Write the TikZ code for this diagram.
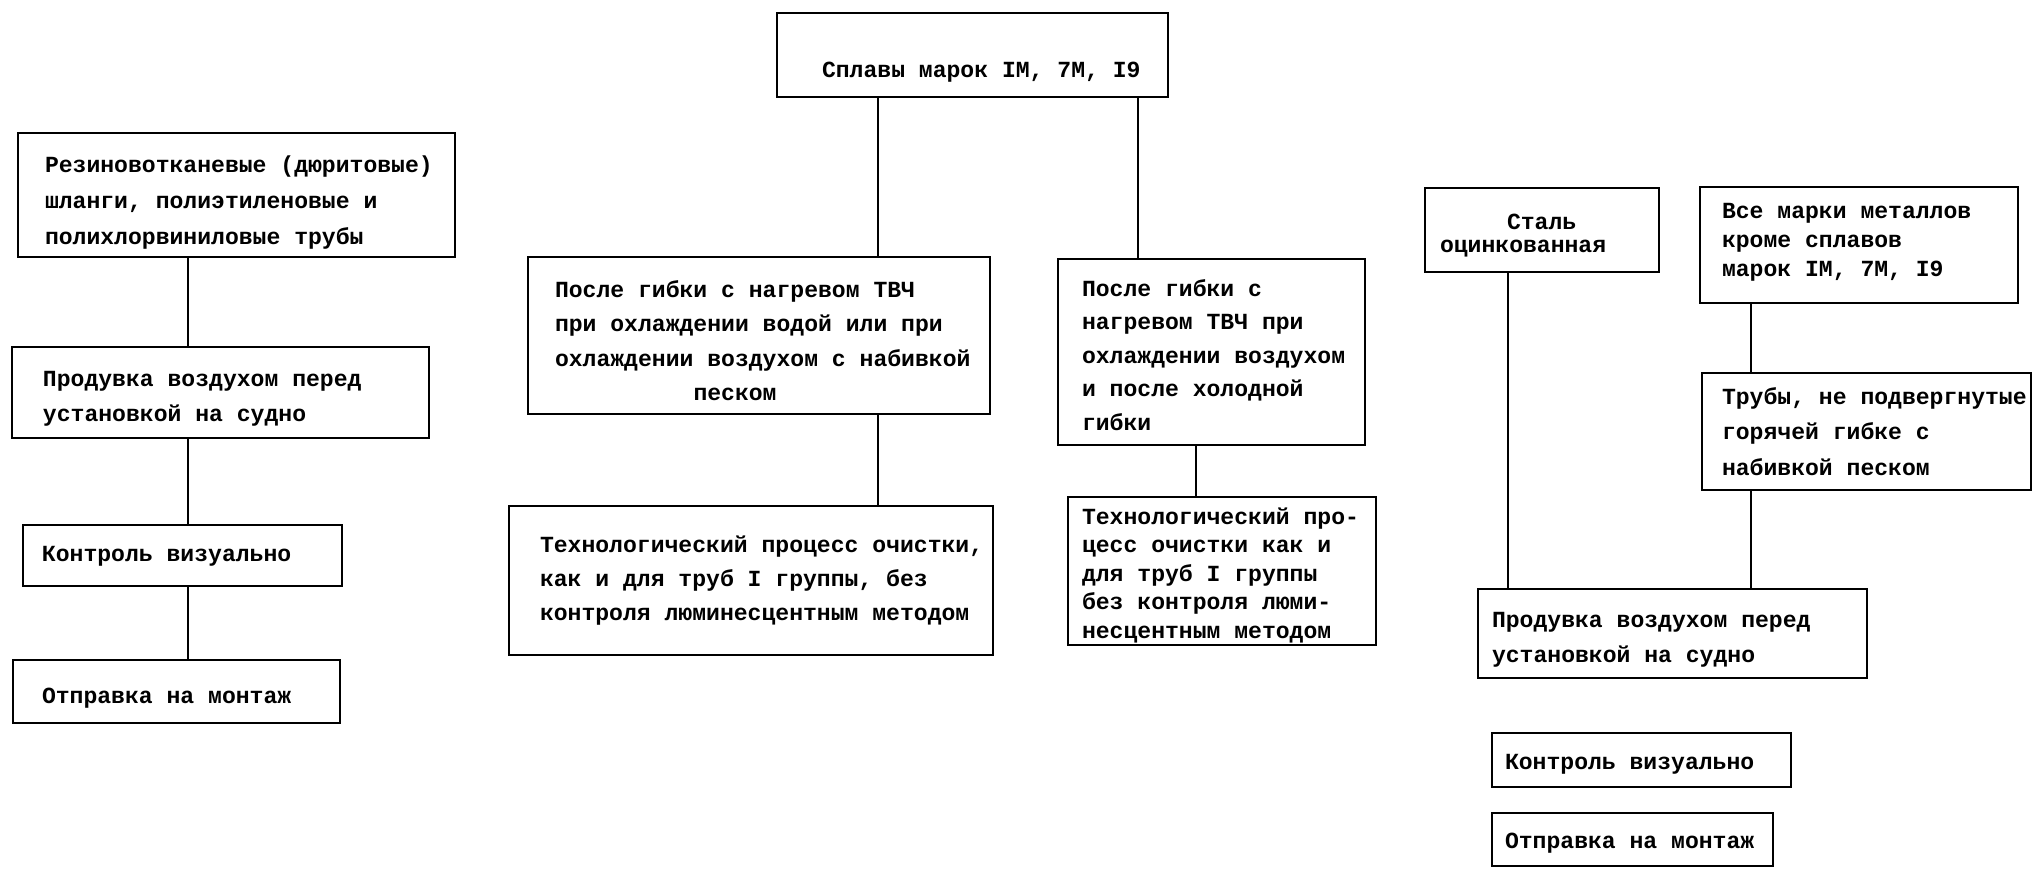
\documentclass[tikz,border=0pt]{standalone}
\usepackage{fontspec}
\newfontfamily\tw{Liberation Mono}
\newcommand\boxfont{\tw\bfseries\fontsize{23.08pt}{34pt}\selectfont}
% box text: width, left padding, line pitch, downward shift, lines
\newcommand\boxtext[5]{\raisebox{-#4pt}[\height][\depth]{\parbox{#1pt}{\raggedright
  \leftskip=#2pt\relax\baselineskip=#3pt\relax #5\par}}}
\tikzset{
  box/.style={draw, line width=2.6pt, anchor=north west, inner sep=0pt,
              outer sep=0pt, font=\boxfont},
  link/.style={line width=2.4pt},
}
\begin{document}
\begin{tikzpicture}[x=1pt,y=-1pt]
\fill[white] (0,0) rectangle (2034,869);
\useasboundingbox (0,0) rectangle (2034,869);

% ---- left column: rubber hoses and plastic pipes
\node[box, minimum height=124pt] (L1) at (18,133)
  {\boxtext{437}{27}{36}{8}{Резиновотканевые (дюритовые)\\шланги, полиэтиленовые и\\полихлорвиниловые трубы}};
\node[box, minimum height=91pt] (L2) at (12,347)
  {\boxtext{417}{31}{35}{6}{Продувка воздухом перед\\установкой на судно}};
\node[box, minimum height=61pt] (L3) at (23,525)
  {\boxtext{319}{19}{34}{1}{Контроль визуально}};
\node[box, minimum height=63pt] (L4) at (13,660)
  {\boxtext{327}{29}{34}{7}{Отправка на монтаж}};

% ---- middle: alloys 1M, 7M, 19
\node[box, minimum height=84pt, text height=39pt, text depth=0pt] (T) at (777,13)
  {\boxtext{391}{45}{34}{4}{Сплавы марок IМ, 7М, I9}};
\node[box, minimum height=157pt] (A) at (528,257)
  {\boxtext{462}{27}{34.5}{5}{После гибки с нагревом ТВЧ\\при охлаждении водой или при\\охлаждении воздухом с набивкой\\\hspace*{138.5pt}песком}};
\node[box, minimum height=149pt] (C) at (509,506)
  {\boxtext{484}{31}{34}{0}{Технологический процесс очистки,\\как и для труб I группы, без\\контроля люминесцентным методом}};
\node[box, minimum height=186pt] (B) at (1058,259)
  {\boxtext{307}{24}{33.5}{3}{После гибки с\\нагревом ТВЧ при\\охлаждении воздухом\\и после холодной\\гибки}};
\node[box, minimum height=148pt] (D) at (1068,497)
  {\boxtext{308}{14}{28.5}{4}{Технологический про-\\цесс очистки как и\\для труб I группы\\без контроля люми-\\несцентным методом}};

% ---- right: galvanised steel and other metals
\node[box, minimum height=84pt] (S) at (1425,188)
  {\boxtext{234}{15}{23}{6}{\hspace*{67pt}Сталь\\оцинкованная}};
\node[box, minimum height=116pt] (V) at (1700,187)
  {\boxtext{318}{22}{29}{-3}{Все марки металлов\\кроме сплавов\\марок IМ, 7М, I9}};
\node[box, minimum height=117pt] (P) at (1702,373)
  {\boxtext{329}{20}{35.5}{0}{Трубы, не подвергнутые\\горячей гибке с\\набивкой песком}};
\node[box, minimum height=89pt] (R1) at (1478,589)
  {\boxtext{389}{14}{35}{6}{Продувка воздухом перед\\установкой на судно}};
\node[box, minimum height=54pt] (R2) at (1492,733)
  {\boxtext{299}{13}{34}{4}{Контроль визуально}};
\node[box, minimum height=53pt] (R3) at (1492,813)
  {\boxtext{281}{13}{34}{4}{Отправка на монтаж}};

% ---- connector columns
\coordinate (xL) at (188,0);
\coordinate (xA) at (878,0);
\coordinate (xB) at (1138,0);
\coordinate (xD) at (1196,0);
\coordinate (xS) at (1508,0);
\coordinate (xV) at (1751,0);

\draw[link] (L1.south -| xL) -- (L2.north -| xL);
\draw[link] (L2.south -| xL) -- (L3.north -| xL);
\draw[link] (L3.south -| xL) -- (L4.north -| xL);

\draw[link] (T.south -| xA) -- (A.north -| xA);
\draw[link] (A.south -| xA) -- (C.north -| xA);
\draw[link] (T.south -| xB) -- (B.north -| xB);
\draw[link] (B.south -| xD) -- (D.north -| xD);

\draw[link] (S.south -| xS) -- (R1.north -| xS);
\draw[link] (V.south -| xV) -- (P.north -| xV);
\draw[link] (P.south -| xV) -- (R1.north -| xV);
\end{tikzpicture}
\end{document}
